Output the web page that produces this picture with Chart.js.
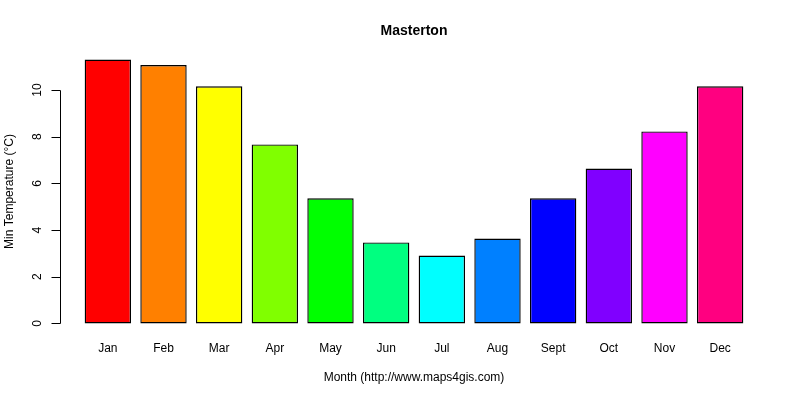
<!DOCTYPE html>
<html>
<head>
<meta charset="utf-8">
<script src="https://cdn.jsdelivr.net/npm/chart.js@4.4.1/dist/chart.umd.min.js"></script>
<style>
  body { margin: 0; background: #fff; }
</style>
</head>
<body>
<canvas id="grafico" width="800" height="400"></canvas>
<script>
const meses = ["Jan", "Feb", "Mar", "Apr", "May", "Jun", "Jul", "Aug", "Sept", "Oct", "Nov", "Dec"];
const temperaturasMin = [11.31, 11.07, 10.16, 7.67, 5.36, 3.47, 2.91, 3.64, 5.36, 6.64, 8.23, 10.16];
const coresBarras = ["#FF0000", "#FF8000", "#FFFF00", "#80FF00", "#00FF00", "#00FF80",
                     "#00FFFF", "#0080FF", "#0000FF", "#8000FF", "#FF00FF", "#FF0080"];
const ticksY = [0, 2, 4, 6, 8, 10];

const tituloGrafico = "Masterton";
const tituloX = "Month (http://www.maps4gis.com)";
const tituloY = "Min Temperature (°C)";

const fonte = "'Liberation Sans', Arial, Helvetica, sans-serif";

// eixos no estilo do R, desenhados por cima usando as escalas do Chart.js
const eixosR = {
  id: "eixosR",
  afterDraw(chart) {
    const ctx = chart.ctx;
    const { x, y } = chart.scales;
    const area = chart.chartArea;
    const xEixo = 60.5;

    ctx.save();
    ctx.strokeStyle = "#000";
    ctx.fillStyle = "#000";
    ctx.lineWidth = 1;

    ctx.beginPath();
    ctx.moveTo(xEixo, Math.round(y.getPixelForValue(ticksY[0])) + 0.5);
    ctx.lineTo(xEixo, Math.round(y.getPixelForValue(ticksY[ticksY.length - 1])) + 0.5);
    ticksY.forEach(valor => {
      const py = Math.round(y.getPixelForValue(valor)) + 0.5;
      ctx.moveTo(xEixo, py);
      ctx.lineTo(xEixo - 9, py);
    });
    ctx.stroke();

    ctx.font = "12px " + fonte;
    ctx.textAlign = "center";
    ctx.textBaseline = "middle";

    ticksY.forEach(valor => {
      ctx.save();
      ctx.translate(38, y.getPixelForValue(valor));
      ctx.rotate(-Math.PI / 2);
      ctx.fillText(String(valor), 0, 0);
      ctx.restore();
    });

    meses.forEach((mes, i) => {
      ctx.fillText(mes, x.getPixelForValue(i), 349);
    });

    ctx.fillText(tituloX, (area.left + area.right) / 2, 378);

    ctx.save();
    ctx.translate(10, (area.top + area.bottom) / 2);
    ctx.rotate(-Math.PI / 2);
    ctx.fillText(tituloY, 0, 0);
    ctx.restore();

    ctx.font = "bold 14px " + fonte;
    ctx.fillText(tituloGrafico, (area.left + area.right) / 2, 31);

    ctx.restore();
  }
};

new Chart(document.getElementById("grafico"), {
  type: "bar",
  data: {
    labels: meses,
    datasets: [{
      data: temperaturasMin,
      backgroundColor: coresBarras,
      borderColor: "#000",
      borderWidth: 1.4,
      borderSkipped: false,
      barPercentage: 0.833,
      categoryPercentage: 1
    }]
  },
  options: {
    responsive: false,
    animation: false,
    layout: {
      padding: { left: 80, right: 52, top: 49, bottom: 66 }
    },
    scales: {
      x: { display: false },
      y: { display: false, min: -0.452, max: 11.76 }
    },
    plugins: {
      legend: { display: false },
      tooltip: { enabled: false }
    }
  },
  plugins: [eixosR]
});
</script>
</body>
</html>
